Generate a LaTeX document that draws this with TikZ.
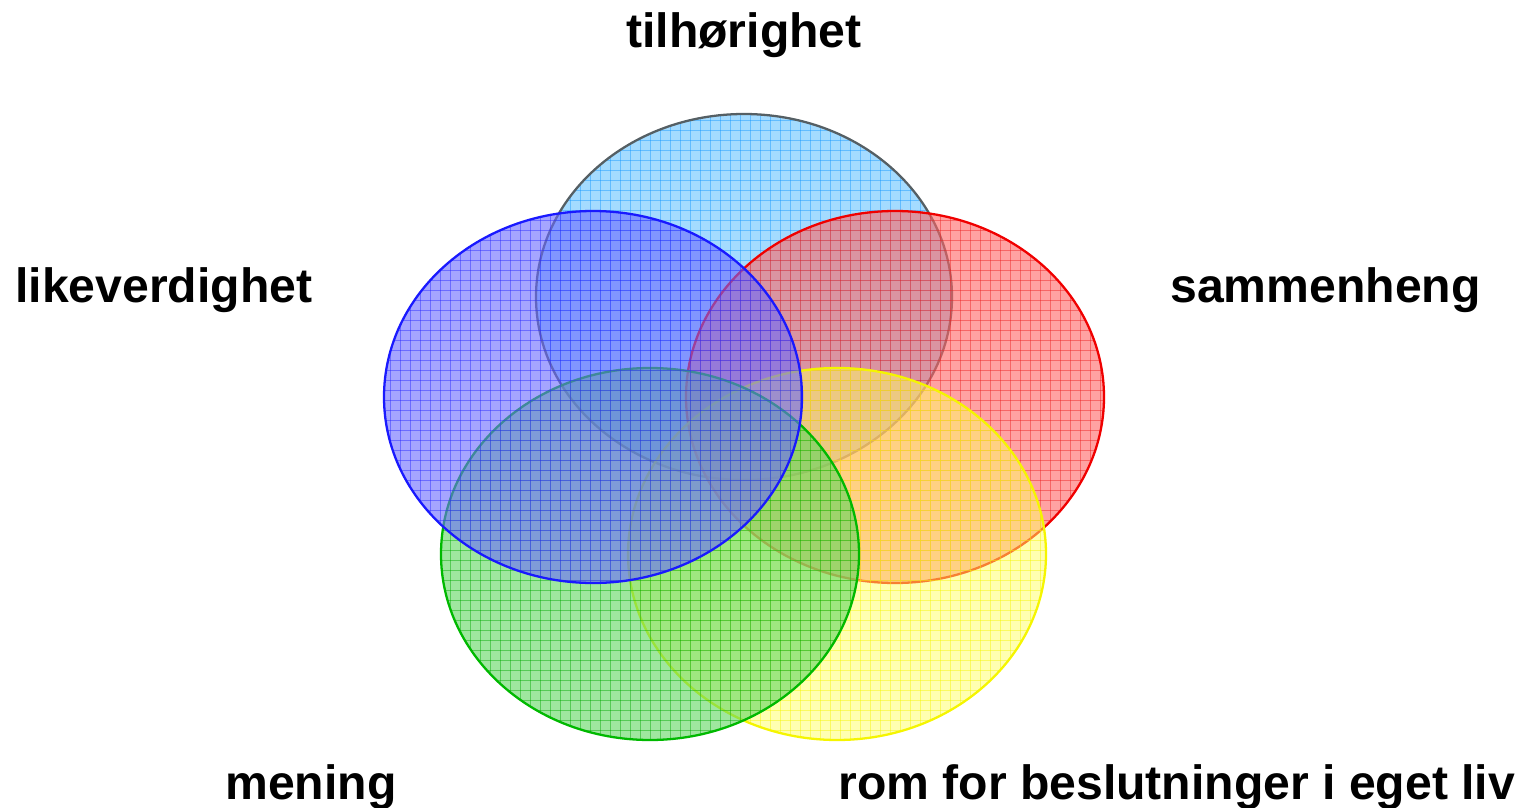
\documentclass[tikz,border=0pt]{standalone}
\usepackage{fontspec}
\setmainfont{Liberation Sans}
\definecolor{lbfill}{RGB}{115,200,255}
\definecolor{lbline}{RGB}{20,150,255}
\definecolor{lbborder}{RGB}{85,95,100}
\definecolor{bfill}{RGB}{105,105,255}
\definecolor{bline}{RGB}{40,40,255}
\definecolor{bborder}{RGB}{25,25,255}
\definecolor{rfill}{RGB}{255,100,100}
\definecolor{rline}{RGB}{235,30,30}
\definecolor{rborder}{RGB}{240,0,0}
\definecolor{yfill}{RGB}{255,255,100}
\definecolor{yline}{RGB}{245,245,0}
\definecolor{yborder}{RGB}{245,245,0}
\definecolor{gfill}{RGB}{95,215,95}
\definecolor{gline}{RGB}{0,170,0}
\definecolor{gborder}{RGB}{0,185,0}
\tikzset{
  lbl/.style={font=\bfseries\fontsize{27.4pt}{30pt}\selectfont, inner sep=0pt, anchor=base west, text=black},
}
\newcommand{\vennset}[8]{%
  \begin{scope}
    \fill[#5, fill opacity=#8] (#1,#2) ellipse [x radius=#3, y radius=#4];
    \begin{scope}
      \clip (#1,#2) ellipse [x radius=#3, y radius=#4];
      \foreach \g in {0,10,...,1520} {\draw[#6, opacity=0.45, line width=0.5pt] (\g,0) -- (\g,808);}
      \foreach \g in {0,10,...,800} {\draw[#6, opacity=0.45, line width=0.5pt] (0,\g) -- (1519,\g);}
    \end{scope}
    \draw[#7, line width=1.3pt] (#1,#2) ellipse [x radius=#3, y radius=#4];
  \end{scope}}
\begin{document}
\begin{tikzpicture}[x=0.02cm,y=-0.02cm]
\useasboundingbox (0,0) rectangle (1519,808);
\vennset{744}{297}{208}{183}{lbfill}{lbline}{lbborder}{0.65}
\vennset{895}{397}{209}{186}{rfill}{rline}{rborder}{0.6}
\vennset{837}{554}{209}{186}{yfill}{yline}{yborder}{0.5}
\vennset{650}{554}{209}{186}{gfill}{gline}{gborder}{0.6}
\vennset{593}{397}{209}{186}{bfill}{bline}{bborder}{0.6}
\node[lbl, anchor=base] (tilh) at (744,48) {tilhørighet};
\node[lbl] (likev) at (15,302) {likeverdighet};
\node[lbl] (samm) at (1170,302) {sammenheng};
\node[lbl] (men) at (225,799) {mening};
\node[lbl] (rom) at (838,799) {rom for beslutninger i eget liv};
\end{tikzpicture}
\end{document}
